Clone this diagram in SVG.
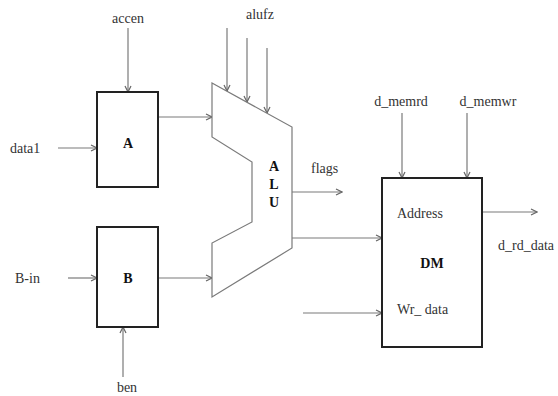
<svg xmlns="http://www.w3.org/2000/svg" width="558" height="396" viewBox="0 0 558 396">
<style>
text{font-family:'Liberation Serif','Times New Roman','DejaVu Serif',serif;font-size:14px;fill:#333}
.b{font-weight:bold;fill:#111}
.box{fill:#fff;stroke:#222;stroke-width:2}
.c{fill:none;stroke:#7a7a7a;stroke-width:1.2}
</style>
<defs>
<marker id="ah" markerWidth="8" markerHeight="8" refX="7" refY="4" orient="auto" markerUnits="userSpaceOnUse">
<path d="M1,1 L7,4 L1,7" fill="none" stroke="#666" stroke-width="1.2"/>
</marker>
</defs>
<rect width="558" height="396" fill="#fff"/>
<g id="connectors">
<line class="c" x1="128" y1="28" x2="128" y2="92" marker-end="url(#ah)"/>
<line class="c" x1="58" y1="148" x2="97" y2="148" marker-end="url(#ah)"/>
<line class="c" x1="158" y1="117" x2="212" y2="117" marker-end="url(#ah)"/>
<line class="c" x1="68" y1="278" x2="97" y2="278" marker-end="url(#ah)"/>
<line class="c" x1="158" y1="278" x2="212" y2="278" marker-end="url(#ah)"/>
<line class="c" x1="123" y1="377" x2="123" y2="327" marker-end="url(#ah)"/>
<line class="c" x1="227" y1="28" x2="227" y2="91" marker-end="url(#ah)"/>
<line class="c" x1="247" y1="38" x2="247" y2="102" marker-end="url(#ah)"/>
<line class="c" x1="267" y1="48" x2="267" y2="113" marker-end="url(#ah)"/>
<line class="c" x1="292" y1="192" x2="342" y2="192" marker-end="url(#ah)"/>
<line class="c" x1="292" y1="238" x2="382" y2="238" marker-end="url(#ah)"/>
<line class="c" x1="303" y1="313" x2="382" y2="313" marker-end="url(#ah)"/>
<line class="c" x1="402" y1="113" x2="402" y2="178" marker-end="url(#ah)"/>
<line class="c" x1="467" y1="113" x2="467" y2="178" marker-end="url(#ah)"/>
<line class="c" x1="482" y1="212" x2="537" y2="212" marker-end="url(#ah)"/>
</g>
<g id="A">
<rect class="box" x="97" y="92" width="61" height="95"/>
<text class="b" x="128" y="148" text-anchor="middle">A</text>
</g>
<g id="B">
<rect class="box" x="97" y="227" width="61" height="100"/>
<text class="b" x="128" y="283" text-anchor="middle">B</text>
</g>
<g id="ALU">
<polygon points="212,83 292,127 292,248 212,297 212,243 252,222 252,162 212,137" fill="#fff" stroke="#7a7a7a" stroke-width="1.2"/>
<text class="b" x="274" y="171" text-anchor="middle">A</text>
<text class="b" x="274" y="189" text-anchor="middle">L</text>
<text class="b" x="274" y="207" text-anchor="middle">U</text>
</g>
<g id="DM">
<rect class="box" x="382" y="178" width="100" height="169"/>
<text x="397" y="218">Address</text>
<text class="b" x="432" y="268" text-anchor="middle">DM</text>
<text x="397" y="314">Wr_ data</text>
</g>
<g id="labels">
<text x="128" y="23" text-anchor="middle">accen</text>
<text x="10" y="153">data1</text>
<text x="15" y="283">B-in</text>
<text x="127" y="392" text-anchor="middle">ben</text>
<text x="260" y="19" text-anchor="middle">alufz</text>
<text x="311" y="173">flags</text>
<text x="401" y="106" text-anchor="middle">d_memrd</text>
<text x="488" y="106" text-anchor="middle">d_memwr</text>
<text x="498" y="250">d_rd_data</text>
</g>
</svg>
